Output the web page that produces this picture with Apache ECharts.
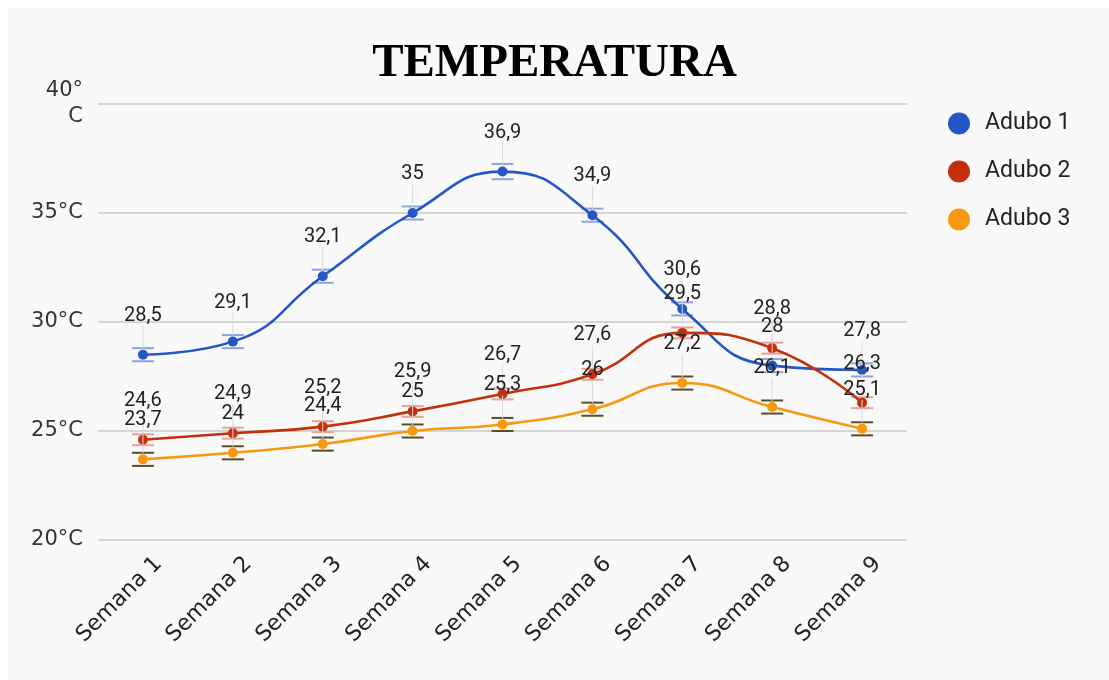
<!DOCTYPE html>
<html>
<head>
<meta charset="utf-8">
<script src="https://cdn.jsdelivr.net/npm/echarts@6/dist/echarts.min.js"></script>
<style>
html,body{margin:0;padding:0;background:#ffffff;}
#c{position:absolute;left:0;top:0;width:1109px;height:680px;}
#bg{position:absolute;left:8px;top:8px;right:0;bottom:0;background:#f9f9f9;}
</style>
</head>
<body>
<div id="bg"></div>
<div id="c"></div>
<script>
var categories = ['Semana 1','Semana 2','Semana 3','Semana 4','Semana 5','Semana 6','Semana 7','Semana 8','Semana 9'];
var seriesNames = ['Adubo 1','Adubo 2','Adubo 3'];
var adubo1 = [28.5, 29.1, 32.1, 35, 36.9, 34.9, 30.6, 28, 27.8];
var adubo2 = [24.6, 24.9, 25.2, 25.9, 26.7, 27.6, 29.5, 28.8, 26.3];
var adubo3 = [23.7, 24, 24.4, 25, 25.3, 26, 27.2, 26.1, 25.1];
var erro1 = [0.3, 0.3, 0.3, 0.3, 0.35, 0.3, 0.3, 0.3, 0.3];
var erro2 = [0.25, 0.25, 0.25, 0.25, 0.25, 0.25, 0.25, 0.25, 0.25];
var erro3 = [0.3, 0.3, 0.3, 0.3, 0.3, 0.3, 0.3, 0.3, 0.3];
var yTicks = [20, 25, 30, 35, 40];
var yTickLabels = ['20°C', '25°C', '30°C', '35°C', '40°\nC'];

var colors = ['#2457c5', '#c4300c', '#f7990f'];
var capColors = ['#8ea3dc', '#e8a294', '#5e4c25'];
var values = [adubo1, adubo2, adubo3];
var errors = [erro1, erro2, erro3];

function fmt(v){ return String(v).replace('.', ','); }

var chart = echarts.init(document.getElementById('c'), null, {renderer:'canvas'});

var series = [];
values.forEach(function(vals, s){
  series.push({
    name: seriesNames[s],
    type: 'line',
    data: vals,
    smooth: 0.5,
    symbol: 'circle',
    symbolSize: 10,
    lineStyle: {width: 2.6, color: colors[s]},
    itemStyle: {color: colors[s]},
    z: 3
  });
});

// error bars (caps)
values.forEach(function(vals, s){
  var d = vals.map(function(v, i){ return [i, v - errors[s][i], v + errors[s][i]]; });
  series.push({
    name: seriesNames[s] + ' erro',
    type: 'custom',
    data: d,
    z: 2,
    silent: true,
    renderItem: function(params, api){
      var i = api.value(0);
      var lo = api.coord([i, api.value(1)]);
      var hi = api.coord([i, api.value(2)]);
      var hw = 11;
      var st = {stroke: capColors[s], lineWidth: 2};
      return {type:'group', children:[
        {type:'line', shape:{x1:lo[0]-hw, y1:lo[1], x2:lo[0]+hw, y2:lo[1]}, style:st},
        {type:'line', shape:{x1:hi[0]-hw, y1:hi[1], x2:hi[0]+hw, y2:hi[1]}, style:st}
      ]};
    }
  });
});

// annotations (labels with stems)
var annData = categories.map(function(c, i){ return [i, adubo1[i], adubo2[i], adubo3[i]]; });
series.push({
  name: 'anotacoes',
  type: 'custom',
  data: annData,
  z: 5,
  silent: true,
  renderItem: function(params, api){
    var i = api.value(0);
    var pts = [];
    for (var s = 0; s < 3; s++) {
      var v = api.value(s + 1);
      var p = api.coord([i, v]);
      pts.push({v: v, x: p[0], y: p[1]});
    }
    pts.sort(function(a, b){ return a.y - b.y; });
    var children = [];
    var prev = -1e9;
    pts.forEach(function(p){
      var ly = Math.max(p.y - 39, prev + 18);
      prev = ly;
      children.push({type:'line', shape:{x1:p.x, y1:p.y - 6, x2:p.x, y2:ly + 10}, style:{stroke:'#d9d9d9', lineWidth:1}, z2: 1});
      children.push({type:'text', x: p.x, y: ly, style:{text: fmt(p.v), fill:'#222222', font:'20px Roboto', align:'center', verticalAlign:'middle'}, z2: 2});
    });
    return {type:'group', children: children};
  }
});

var option = {
  animation: false,
  backgroundColor: 'transparent',
  title: {
    text: 'TEMPERATURA',
    left: 'center',
    top: 40,
    textStyle: {fontFamily: 'Liberation Serif', fontWeight: 'bold', fontSize: 47, color: '#000'},
    padding: 0
  },
  legend: {
    data: seriesNames.map(function(n){ return {name: n, icon: 'circle'}; }),
    orient: 'vertical',
    left: 943,
    top: 107,
    itemWidth: 22,
    itemHeight: 22,
    itemGap: 25,
    textStyle: {fontFamily: 'Roboto', fontSize: 23, color: '#222', padding: [0, 0, 0, 10]}
  },
  grid: {left: 98, right: 202, top: 104, bottom: 140, containLabel: false},
  xAxis: {
    type: 'category',
    data: categories,
    boundaryGap: true,
    axisLine: {show: false},
    axisTick: {show: false},
    axisLabel: {rotate: 45, fontFamily: 'DejaVu Sans', fontSize: 22, color: '#222', margin: 36, interval: 0, padding: [0, -22, 0, 0]}
  },
  yAxis: {
    type: 'value',
    min: 20,
    max: 40,
    interval: 5,
    axisLine: {show: false},
    axisTick: {show: false},
    splitLine: {lineStyle: {color: '#c8c8c8', width: 1.5}},
    axisLabel: {
      fontFamily: 'DejaVu Sans', fontSize: 21, color: '#333', margin: 15, lineHeight: 26,
      formatter: function(v){ var k = yTicks.indexOf(v); return k >= 0 ? yTickLabels[k] : ''; }
    }
  },
  series: series
};
chart.setOption(option);
</script>
</body>
</html>
